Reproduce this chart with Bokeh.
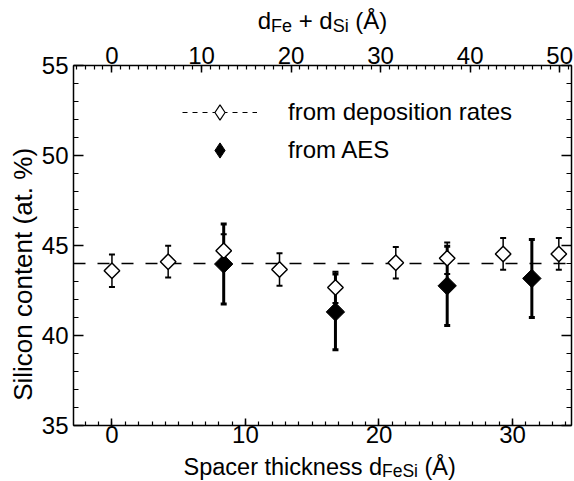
import math
from bokeh.plotting import figure
from bokeh.layouts import column
from bokeh.models import (Range1d, LinearAxis, FixedTicker, Span, Legend, LegendItem,
                          ColumnDataSource)
from bokeh.core.properties import value
from bokeh.embed import file_html
from bokeh.resources import INLINE

# ---------------- data ----------------
dep_x = [0.0, 4.21, 8.37, 12.55, 16.74, 21.26, 25.11, 29.30, 33.47]
dep_y = [43.60, 44.10, 44.71, 43.67, 42.67, 44.04, 44.29, 44.53, 44.53]
dep_err = [0.90, 0.88, 0.91, 0.90, 0.87, 0.88, 0.88, 0.88, 0.88]

aes_x = [8.37, 16.74, 25.11, 31.45]
aes_y = [43.97, 41.31, 42.76, 43.17]
aes_err = [2.22, 2.10, 2.20, 2.17]

ref_level = 44.0

bottom_ticks = [0, 10, 20, 30]
top_ticks = [0, 10, 20, 30, 40, 50]
y_ticks = [35, 40, 45, 50, 55]

legend_labels = ["from deposition rates", "from AES"]
y_title = "Silicon content (at. %)"
bottom_title = ["Spacer thickness d", "FeSi", " (Å)"]
top_title = ["d", "Fe", " + d", "Si", " (Å)"]

# ---------------- layout ----------------
FONT = "Liberation Sans"
W = 574
HT, HB = 35, 29                 # title strips
BL, BR, BT, BB = 73, 3, 30, 27  # main figure borders
FH = 360
HM = BT + FH + BB
X0, X1 = -2.88, 34.42
TOP_SCALE = 1.491
T0, T1 = X0 * TOP_SCALE, X1 * TOP_SCALE
Y0, Y1 = 35, 55
FW = W - BL - BR


def px_to_x(px):
    return X0 + (px - BL) / FW * (X1 - X0)


ARIAL = {'S': 667, 'p': 556, 'a': 556, 'c': 500, 'e': 556, 'r': 333, ' ': 278,
         't': 278, 'h': 556, 'i': 222, 'k': 500, 'n': 556, 's': 500, 'd': 556,
         'F': 611, '(': 333, ')': 333, 'Å': 667, '+': 584}


def text_w(s, size):
    return sum(ARIAL.get(ch, 556) for ch in s) * size / 1000.0


p = figure(width=W, height=HM, x_range=Range1d(X0, X1), y_range=Range1d(Y0, Y1),
           output_backend="svg", toolbar_location=None, title=None,
           min_border_left=BL, min_border_right=BR, min_border_top=BT,
           min_border_bottom=BB, background_fill_color="white",
           border_fill_color="white")
p.outline_line_color = None
p.grid.visible = False

p.extra_x_ranges = {"top": Range1d(T0, T1)}
top_axis = LinearAxis(x_range_name="top")
p.add_layout(top_axis, "above")
right_axis = LinearAxis()
p.add_layout(right_axis, "right")

bottom_axis = p.below[0]
left_axis = p.left[0]

bottom_axis.ticker = FixedTicker(ticks=bottom_ticks, minor_ticks=list(range(-2, 35)))
top_axis.ticker = FixedTicker(ticks=top_ticks, minor_ticks=list(range(-4, 52)))
left_axis.ticker = FixedTicker(ticks=y_ticks, minor_ticks=list(range(35, 56)))
right_axis.ticker = FixedTicker(ticks=y_ticks, minor_ticks=list(range(35, 56)))


def style_axis(ax, major_in, minor_in, standoff):
    ax.major_tick_in = major_in
    ax.major_tick_out = 0
    ax.minor_tick_in = minor_in
    ax.minor_tick_out = 0
    ax.axis_line_color = "black"
    ax.axis_line_width = 1.5
    ax.major_tick_line_color = "black"
    ax.major_tick_line_width = 1.5
    ax.minor_tick_line_color = "black"
    ax.minor_tick_line_width = 1.2
    ax.major_label_text_font = FONT
    ax.major_label_text_font_size = "24px"
    ax.major_label_text_color = "black"
    ax.major_label_standoff = standoff


style_axis(bottom_axis, 7, 4, 0)
style_axis(top_axis, 7, 4, 2)
style_axis(left_axis, 10, 5, 5)
style_axis(right_axis, 10, 5, 0)
right_axis.major_label_overrides = {float(t): "" for t in y_ticks}

left_axis.axis_label = y_title + "\u00a0" * 8
left_axis.axis_label_text_font = FONT
left_axis.axis_label_text_font_size = "26px"
left_axis.axis_label_text_font_style = "normal"
left_axis.axis_label_text_color = "black"
left_axis.axis_label_standoff = 1

# ---------------- reference line ----------------
span = Span(location=ref_level, dimension="width", line_color="black",
            line_width=1.5, line_dash="12 12", level="underlay")
p.add_layout(span)

# ---------------- AES points ----------------
aes_lo = [y - e for y, e in zip(aes_y, aes_err)]
aes_hi = [y + e for y, e in zip(aes_y, aes_err)]
p.segment(x0=aes_x, y0=aes_lo, x1=aes_x, y1=aes_hi, line_color="black", line_width=3)
p.scatter(x=aes_x + aes_x, y=aes_lo + aes_hi, marker="dash", size=6,
          line_color="black", line_width=3)
p.scatter(x=aes_x, y=aes_y, marker="square", angle=math.pi / 4, size=13,
          fill_color="black", line_color="black", line_width=1)

# ---------------- deposition-rate points ----------------
dep_lo = [y - e for y, e in zip(dep_y, dep_err)]
dep_hi = [y + e for y, e in zip(dep_y, dep_err)]
p.segment(x0=dep_x, y0=dep_lo, x1=dep_x, y1=dep_hi, line_color="black", line_width=1.5)
p.scatter(x=dep_x + dep_x, y=dep_lo + dep_hi, marker="dash", size=6,
          line_color="black", line_width=2)
p.scatter(x=dep_x, y=dep_y, marker="square", angle=math.pi / 4, size=11,
          fill_color="white", line_color="black", line_width=1.5)

# ---------------- legend (key glyphs only, no visible data) ----------------
nan = float("nan")
leg_line = p.line(x=[nan, nan], y=[nan, nan], line_color="black", line_width=1,
                  line_dash="5 5")
leg_open = p.scatter(x=[nan], y=[nan], marker="diamond",
                     fill_color="white", line_color="black", line_width=1.2)
leg_fill = p.scatter(x=[nan], y=[nan], marker="diamond",
                     fill_color="black", line_color="black", line_width=1)
legend = Legend(items=[LegendItem(label=legend_labels[0], renderers=[leg_line, leg_open]),
                       LegendItem(label=legend_labels[1], renderers=[leg_fill])],
                location=(182 - BL, 256),
                glyph_width=75, glyph_height=38, label_height=38,
                label_standoff=31, spacing=0, padding=0, margin=0,
                border_line_color=None, background_fill_alpha=0,
                label_text_font=FONT, label_text_font_size="24px",
                label_text_color="black")
p.add_layout(legend, "center")

# ---------------- title strips (text with subscripts) ----------------
BASE_SHIFT = 0.29   # alphabetic text sits ~0.29 em below its anchor


def title_strip(height, pieces, start_px, base_y, sub_drop, main_size, sub_size):
    s = figure(width=W, height=height, x_range=Range1d(X0, X1),
               y_range=Range1d(height, 0), title=None,
               output_backend="svg", toolbar_location=None,
               min_border_left=BL, min_border_right=BR,
               min_border_top=0, min_border_bottom=0,
               x_axis_location=None, y_axis_location=None,
               background_fill_color="white", border_fill_color="white")
    s.outline_line_color = None
    s.grid.visible = False
    xs, ys, sizes, texts = [], [], [], []
    x = start_px
    for i, piece in enumerate(pieces):
        size = sub_size if i % 2 else main_size
        lead = len(piece) - len(piece.lstrip(" "))
        xs.append(px_to_x(x + text_w(" " * lead, size)))
        ys.append(base_y + (sub_drop if i % 2 else 0) - BASE_SHIFT * size)
        sizes.append(f"{size}px")
        texts.append(piece.lstrip(" "))
        x += text_w(piece, size)
    src = ColumnDataSource(dict(x=xs, y=ys, text=texts, fs=sizes))
    s.text(x="x", y="y", text="text", source=src, text_font=value(FONT),
           text_font_size="fs", text_color="black", text_align="left",
           text_baseline="alphabetic")
    return s


top_w = sum(text_w(t, 18 if i % 2 else 24) for i, t in enumerate(top_title))
top_strip = title_strip(HT, top_title, 322 - top_w / 2, 27, 4, 24, 18)
bottom_strip = title_strip(HB, bottom_title, 183, 21.5, 2.5, 23.5, 17.5)

layout = column(top_strip, p, bottom_strip, spacing=0)

open("out.html", "w").write(file_html(layout, INLINE))
